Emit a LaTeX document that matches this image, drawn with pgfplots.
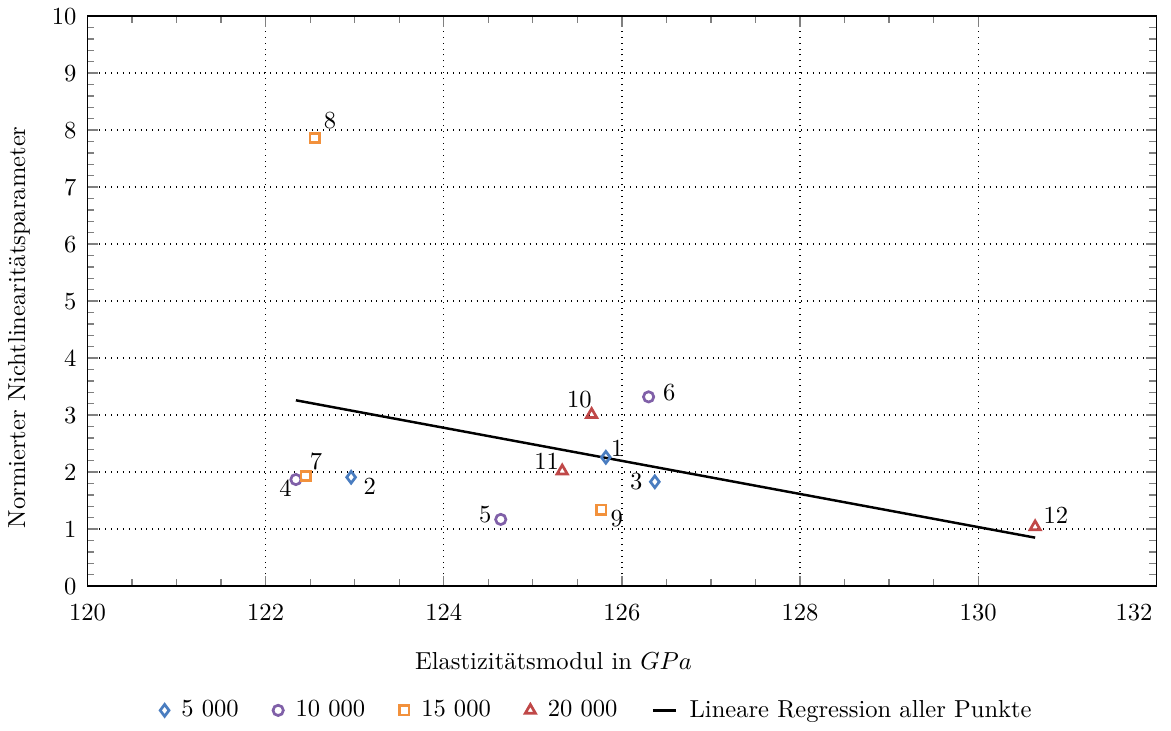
\documentclass[border=0pt]{standalone}
\usepackage{pgfplots}
\pgfplotsset{compat=1.18}
\pgfplotsset{shortline legend/.style={legend image code/.code={\draw[##1] (0cm,0cm) -- (0.33cm,0cm);}}}
\definecolor{cblue}{RGB}{74,125,192}
\definecolor{cpurple}{RGB}{128,96,168}
\definecolor{corange}{RGB}{242,145,60}
\definecolor{cred}{RGB}{192,72,72}
\begin{document}
\begin{tikzpicture}
\begin{axis}[
  scale only axis,
  width=435pt, height=232pt,
  xmin=120, xmax=132, ymin=0, ymax=10,
  xtick={120,122,...,130},
  extra x ticks={132},
  extra x tick style={major tick length=0pt, xticklabel style={anchor=north east, xshift=2pt}},
  ytick={0,1,...,10},
  minor x tick num=3,
  minor y tick num=4,
  tick align=inside,
  xtick pos=both, ytick pos=both,
  axis line style={line width=0.6pt},
  major tick style={line width=0.5pt},
  minor tick style={line width=0.5pt},
  xticklabel style={yshift=-4pt},
  yticklabel style={xshift=-1pt},
  xmajorgrids, ymajorgrids,
  major grid style={dotted, black, line width=0.5pt},
  xlabel={Elastizitätsmodul in $GPa$},
  ylabel={Normierter Nichtlinearitätsparameter},
  xlabel style={at={(ticklabel cs:0.436)}, anchor=north, yshift=-6pt},
  ylabel style={at={(ticklabel cs:0.454)}, anchor=south, yshift=2pt},
  legend columns=-1,
  legend style={draw=none, at={(axis description cs:0.478,-0.218)}, anchor=center,
    /tikz/every odd column/.append style={column sep=3pt},
    /tikz/every even column/.append style={column sep=12pt}},
  legend cell align=left,
  clip=false,
]
\addplot[only marks, mark=diamond, mark size=2.4pt, cblue, line width=1.1pt]
  coordinates {(125.82,2.26) (122.96,1.91) (126.37,1.83)};
\addlegendentry{5 000}
\addplot[only marks, mark=o, mark size=2.1pt, cpurple, line width=1.1pt]
  coordinates {(122.34,1.87) (124.64,1.17) (126.30,3.32)};
\addlegendentry{10 000}
\addplot[only marks, mark=square, mark size=1.9pt, corange, line width=1.1pt]
  coordinates {(122.45,1.93) (122.55,7.86) (125.77,1.34)};
\addlegendentry{15 000}
\addplot[only marks, mark=triangle, mark size=2.4pt, cred, line width=1.1pt]
  coordinates {(125.66,3.01) (125.33,2.02) (130.64,1.04)};
\addlegendentry{20 000}
\addplot[black, line width=1pt, no marks, shortline legend]
  coordinates {(122.34,3.26) (130.64,0.85)};
\addlegendentry{Lineare Regression aller Punkte}

\node at ([xshift=4.6pt,yshift=3.8pt]axis cs:125.82,2.26) {1};
\node at ([xshift=7.6pt,yshift=-3.8pt]axis cs:122.96,1.91) {2};
\node at ([xshift=-7.6pt,yshift=0pt]axis cs:126.37,1.83) {3};
\node at ([xshift=-4.2pt,yshift=-3.4pt]axis cs:122.34,1.87) {4};
\node at ([xshift=-6.3pt,yshift=2.1pt]axis cs:124.64,1.17) {5};
\node at ([xshift=8.4pt,yshift=1.7pt]axis cs:126.30,3.32) {6};
\node at ([xshift=4.2pt,yshift=5.9pt]axis cs:122.45,1.93) {7};
\node at ([xshift=6.3pt,yshift=7.1pt]axis cs:122.55,7.86) {8};
\node at ([xshift=6.3pt,yshift=-3.8pt]axis cs:125.77,1.34) {9};
\node at ([xshift=-5pt,yshift=5.9pt]axis cs:125.66,3.01) {10};
\node at ([xshift=-6.3pt,yshift=3.8pt]axis cs:125.33,2.02) {11};
\node at ([xshift=8.4pt,yshift=4.6pt]axis cs:130.64,1.04) {12};
\path (rel axis cs:1,0) ++(6pt,0pt);
\end{axis}
\end{tikzpicture}
\end{document}
